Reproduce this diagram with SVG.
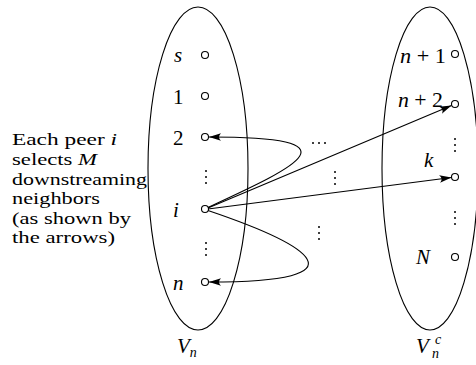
<svg xmlns="http://www.w3.org/2000/svg" width="476" height="365" viewBox="0 0 476 365">
<style>
.ell{fill:none;stroke:#000;stroke-width:1.1}
.nd{fill:#fff;stroke:#000;stroke-width:1.1}
.t{font-family:"Liberation Serif","DejaVu Serif",serif;font-size:21px;fill:#000}
.cap{font-size:17.5px}
.it{font-style:italic}
.sm{font-size:14px}
.dot{fill:#000}
.ln{fill:none;stroke:#000;stroke-width:1.1}
</style>
<defs>
<marker id="ah" viewBox="-12 -4 13 8" refX="0" refY="0" markerWidth="13" markerHeight="8" markerUnits="userSpaceOnUse" orient="auto">
<path d="M0,0 L-12,-3.8 Q-8,0 -12,3.8 Z" fill="#000"/>
</marker>
<g id="vd"><circle cx="0" cy="-6" r="1"/><circle cx="0" cy="0" r="1"/><circle cx="0" cy="6" r="1"/></g>
</defs>
<rect width="476" height="365" fill="#fff"/>

<g id="Vn">
<ellipse class="ell" cx="198" cy="168.5" rx="50" ry="161.5"/>
<text class="t it" x="177" y="353">V<tspan class="sm" dy="4">n</tspan></text>
</g>
<g id="Vnc">
<ellipse class="ell" cx="430" cy="168.5" rx="48" ry="161.5"/>
<text class="t it" x="416" y="353">V</text>
<text class="t it sm" x="435" y="344">c</text>
<text class="t it sm" x="432" y="358">n</text>
</g>

<g id="caption">
<text class="t cap" x="12" y="145" textLength="105" lengthAdjust="spacingAndGlyphs">Each peer <tspan class="it">i</tspan></text>
<text class="t cap" x="12" y="165" textLength="85" lengthAdjust="spacingAndGlyphs">selects <tspan class="it">M</tspan></text>
<text class="t cap" x="12" y="185" textLength="135" lengthAdjust="spacingAndGlyphs">downstreaming</text>
<text class="t cap" x="12" y="204" textLength="88" lengthAdjust="spacingAndGlyphs">neighbors</text>
<text class="t cap" x="12" y="224" textLength="119" lengthAdjust="spacingAndGlyphs">(as shown by</text>
<text class="t cap" x="12" y="243" textLength="103" lengthAdjust="spacingAndGlyphs">the arrows)</text>
</g>

<g id="node-s"><circle class="nd" cx="205" cy="55" r="3.5"/><text class="t it" x="174" y="62">s</text></g>
<g id="node-1"><circle class="nd" cx="205" cy="96" r="3.5"/><text class="t" x="173" y="104">1</text></g>
<g id="node-2"><circle class="nd" cx="205" cy="137" r="3.5"/><text class="t" x="173" y="145">2</text></g>
<g id="node-i"><circle class="nd" cx="205" cy="209" r="3.5"/><text class="t it" x="173" y="217">i</text></g>
<g id="node-n"><circle class="nd" cx="205" cy="282" r="3.5"/><text class="t it" x="173" y="290">n</text></g>

<g id="node-n1"><circle class="nd" cx="455" cy="54" r="3.5"/><text class="t" x="400" y="63" textLength="46" lengthAdjust="spacingAndGlyphs"><tspan class="it">n</tspan> + 1</text></g>
<g id="node-n2"><circle class="nd" cx="455" cy="104" r="3.5"/><text class="t" x="398" y="107" textLength="45" lengthAdjust="spacingAndGlyphs"><tspan class="it">n</tspan> + 2</text></g>
<g id="node-k"><circle class="nd" cx="455" cy="177" r="3.5"/><text class="t it" x="424" y="167">k</text></g>
<g id="node-N"><circle class="nd" cx="455" cy="257" r="3.5"/><text class="t it" x="416" y="264">N</text></g>

<g id="dots" class="dot">
<use href="#vd" x="206" y="177"/>
<use href="#vd" x="206" y="249"/>
<use href="#vd" x="455" y="145"/>
<use href="#vd" x="455" y="218"/>
<use href="#vd" x="335" y="178"/>
<use href="#vd" x="319" y="233"/>
<circle cx="313" cy="143" r="1"/><circle cx="319" cy="143" r="1"/><circle cx="325" cy="143" r="1"/>
</g>

<g id="connectors">
<path class="ln" d="M208,207.5 C300,165 360,137 209,137" marker-end="url(#ah)"/>
<path class="ln" d="M208,210.5 C310,245 370,282 209,282" marker-end="url(#ah)"/>
<path class="ln" d="M208,208 L451.5,105.5" marker-end="url(#ah)"/>
<path class="ln" d="M208,209 L451.5,177.5" marker-end="url(#ah)"/>
</g>
</svg>
